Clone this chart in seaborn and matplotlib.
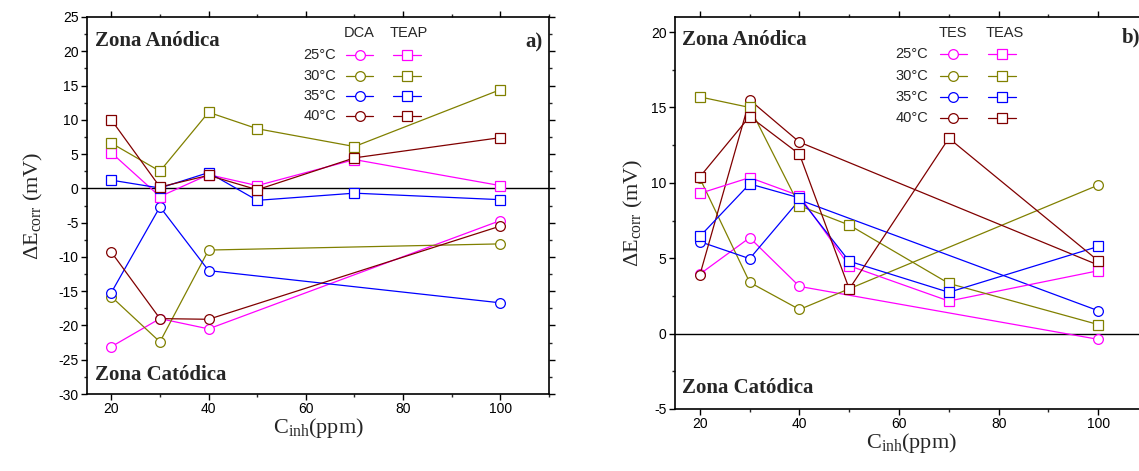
import matplotlib
matplotlib.use("Agg")
import matplotlib.pyplot as plt
import seaborn as sns
from matplotlib.lines import Line2D
from matplotlib.ticker import MultipleLocator

# ---------------- data ----------------
temps = ["25°C", "30°C", "35°C", "40°C"]
colors = ["#FF00FF", "#808000", "#0000FF", "#800000"]

# panel a)
x_dca = [20, 30, 40, 100]
dca_25 = [-23.1, -19.0, -20.5, -4.7]
dca_30 = [-15.8, -22.4, -9.0, -8.1]
dca_35 = [-15.2, -2.7, -12.0, -16.7]
dca_40 = [-9.3, -19.0, -19.1, -5.5]
x_teap = [20, 30, 40, 50, 70, 100]
teap_25 = [5.2, -1.2, 2.0, 0.4, 4.2, 0.4]
teap_30 = [6.6, 2.5, 11.1, 8.7, 6.1, 14.4]
teap_35 = [1.2, 0.05, 2.3, -1.75, -0.7, -1.65]
teap_40 = [10.0, 0.2, 1.9, -0.2, 4.45, 7.4]

# panel b)
x_tes = [20, 30, 40, 100]
tes_25 = [3.95, 6.36, 3.13, -0.38]
tes_30 = [10.3, 3.4, 1.6, 9.85]
tes_35 = [6.1, 4.97, 8.87, 1.52]
tes_40 = [3.9, 15.5, 12.7, 4.55]
x_teas = [20, 30, 40, 50, 70, 100]
teas_25 = [9.3, 10.35, 9.14, 4.5, 2.16, 4.17]
teas_30 = [15.7, 15.0, 8.48, 7.2, 3.33, 0.6]
teas_35 = [6.45, 9.93, 9.0, 4.8, 2.74, 5.78]
teas_40 = [10.4, 14.4, 11.9, 2.96, 12.96, 4.83]

xticks = [20, 40, 60, 80, 100]

# ---------------- style ----------------
sns.set_style("ticks")
plt.rcParams["font.family"] = ["Liberation Sans", "DejaVu Sans"]
plt.rcParams["axes.unicode_minus"] = False
plt.rcParams["mathtext.fontset"] = "custom"
plt.rcParams["mathtext.rm"] = "Liberation Serif"
plt.rcParams["mathtext.it"] = "Liberation Serif:italic"
plt.rcParams["mathtext.bf"] = "Liberation Serif:bold"

W, H = 1139, 471
fig = plt.figure(figsize=(W / 100, H / 100), dpi=100)
fig.patch.set_facecolor("white")


def px_axes(x0, y0, x1, y1):
    return fig.add_axes([x0 / W, 1 - y1 / H, (x1 - x0) / W, (y1 - y0) / H])


axA = px_axes(87, 17, 549, 394)
axB = px_axes(675, 17, 1148, 409)

serif = ["Liberation Serif", "DejaVu Serif"]


def draw_series(ax, x, ys, marker, ms):
    for y, c in zip(ys, colors):
        sns.lineplot(x=x, y=y, ax=ax, color=c, marker=marker, markersize=ms,
                     markerfacecolor="white", markeredgecolor=c,
                     markeredgewidth=0.9, linewidth=0.9, legend=False,
                     zorder=3)


def style_axes(ax, ylim, ymajor, right_ticks, ylabelpad):
    ax.axhline(0, color="black", lw=1.0, zorder=1)
    ax.set_xlim(15, 110)
    ax.set_ylim(*ylim)
    ax.set_xticks(xticks)
    ax.xaxis.set_minor_locator(MultipleLocator(10))
    ax.yaxis.set_major_locator(MultipleLocator(ymajor))
    ax.yaxis.set_minor_locator(MultipleLocator(ymajor / 2))
    for s in ax.spines.values():
        s.set_linewidth(1.2)
        s.set_color("black")
    ax.tick_params(which="major", direction="out", length=4, width=1,
                   labelsize=10, pad=2, colors="black",
                   top=True, right=right_ticks)
    ax.tick_params(which="minor", direction="out", length=2.5, width=1,
                   top=True, right=right_ticks)
    ax.set_xlabel("C$_{\\mathrm{inh}}$(ppm)", fontsize=16, family=serif,
                  labelpad=0)
    ax.set_ylabel("ΔE$_{\\mathrm{corr}}$ (mV)", fontsize=16, family=serif,
                  labelpad=ylabelpad)


def manual_legend(ax, h1, h2, tx, rows, c_line, s_line, hy):
    for i, (t, c) in enumerate(zip(temps, colors)):
        y = rows[i]
        ax.text(tx, y, t, transform=ax.transAxes, ha="right", va="center",
                fontsize=10.5)
        for (a, b), m, ms in ((c_line, "o", 7), (s_line, "s", 6.5)):
            ax.add_line(Line2D([a, b], [y, y], transform=ax.transAxes,
                               color=c, lw=0.9, clip_on=False))
            ax.add_line(Line2D([(a + b) / 2], [y], transform=ax.transAxes,
                               marker=m, markersize=ms, color=c,
                               markerfacecolor="white", markeredgecolor=c,
                               markeredgewidth=0.9, clip_on=False))
    ax.text((c_line[0] + c_line[1]) / 2, hy, h1, transform=ax.transAxes,
            ha="center", va="center", fontsize=10.5)
    ax.text((s_line[0] + s_line[1]) / 2 + 0.005, hy, h2,
            transform=ax.transAxes, ha="center", va="center", fontsize=10.5)


# ---------------- panel a ----------------
draw_series(axA, x_dca, [dca_25, dca_30, dca_35, dca_40], "o", 7)
draw_series(axA, x_teap, [teap_25, teap_30, teap_35, teap_40], "s", 6.5)
style_axes(axA, (-30, 25), 5, True, 10)
axA.text(0.017, 0.923, "Zona Anódica", transform=axA.transAxes,
         family=serif, weight="bold", fontsize=15, va="baseline")
axA.text(0.017, 0.037, "Zona Catódica", transform=axA.transAxes,
         family=serif, weight="bold", fontsize=15, va="baseline")
axA.text(0.987, 0.920, "a)", transform=axA.transAxes, family=serif,
         weight="bold", fontsize=15, va="baseline", ha="right")
manual_legend(axA, "DCA", "TEAP", 0.539,
              [0.899, 0.844, 0.790, 0.737], (0.561, 0.619), (0.662, 0.723),
              0.958)

# ---------------- panel b ----------------
draw_series(axB, x_tes, [tes_25, tes_30, tes_35, tes_40], "o", 7)
draw_series(axB, x_teas, [teas_25, teas_30, teas_35, teas_40], "s", 6.5)
style_axes(axB, (-5, 21), 5, False, 4)
axB.text(0.015, 0.929, "Zona Anódica", transform=axB.transAxes,
         family=serif, weight="bold", fontsize=15, va="baseline")
axB.text(0.015, 0.041, "Zona Catódica", transform=axB.transAxes,
         family=serif, weight="bold", fontsize=15, va="baseline")
axB.text(0.945, 0.934, "b)", transform=axB.transAxes, family=serif,
         weight="bold", fontsize=15, va="baseline", ha="left")
manual_legend(axB, "TES", "TEAS", 0.535,
              [0.906, 0.849, 0.796, 0.742], (0.560, 0.617), (0.662, 0.721),
              0.959)

fig.savefig("out.png", dpi=100)
